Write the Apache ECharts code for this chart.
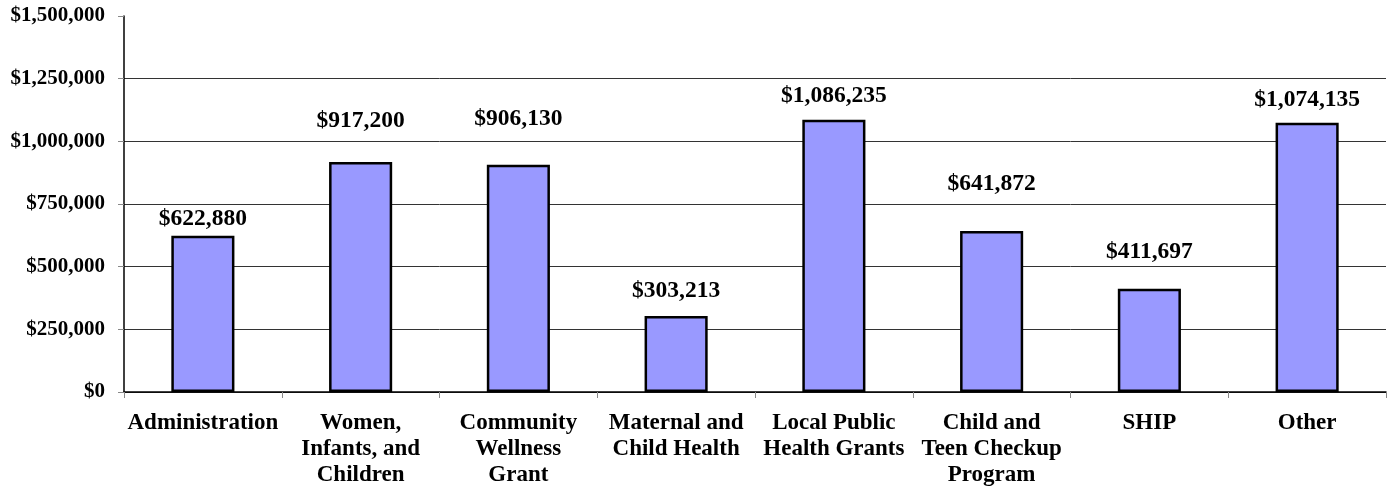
<!DOCTYPE html>
<html><head><meta charset="utf-8">
<script src="https://cdn.jsdelivr.net/npm/echarts@6/dist/echarts.min.js"></script>
<style>html,body{margin:0;padding:0;background:#fff}#c{width:1392px;height:491px}</style>
</head><body><div id="c"></div>
<script>
const categories = ["Administration","Women,\nInfants, and\nChildren","Community\nWellness\nGrant","Maternal and\nChild Health","Local Public\nHealth Grants","Child and\nTeen Checkup\nProgram","SHIP","Other"];
const values = [622880, 917200, 906130, 303213, 1086235, 641872, 411697, 1074135];
const yMin = 0, yMax = 1500000, yStep = 250000;
// label gap above each bar (styling only, as placed in the original)
const labelGaps = [5, 29, 34, 13, 12, 35, 25, 11];
const fmt = v => '$' + Math.round(v).toLocaleString('en-US');
const font = '"Liberation Serif","Times New Roman",serif';
const chart = echarts.init(document.getElementById('c'));
chart.setOption({
  animation: false,
  grid: {left: 124, right: 6, top: 16, bottom: 99},
  xAxis: {
    type: 'category', data: categories,
    axisLine: {lineStyle: {color: '#000', width: 1.5}},
    axisTick: {show: true, length: 6, lineStyle: {color: '#888'}},
    axisLabel: {color: '#000', fontFamily: font, fontWeight: 'bold', fontSize: 23, lineHeight: 26.3, margin: 17.5, interval: 0}
  },
  yAxis: {
    type: 'value', min: yMin, max: yMax, interval: yStep,
    axisLine: {show: true, lineStyle: {color: '#000', width: 1.5}},
    axisTick: {show: true, length: 6, lineStyle: {color: '#888'}},
    splitLine: {show: true, lineStyle: {color: ['#333','#333','#333','#333','#333','#333','transparent'], width: 1}},
    axisLabel: {color: '#000', fontFamily: font, fontWeight: 'bold', fontSize: 21, margin: 19, formatter: fmt}
  },
  series: [{
    type: 'bar', barWidth: '40%',
    data: values.map((v, i) => ({value: v, label: {distance: labelGaps[i]}})),
    itemStyle: {color: '#9999FF', borderColor: '#000', borderWidth: 2.5},
    label: {show: true, position: 'top', color: '#000', fontFamily: font, fontWeight: 'bold', fontSize: 23.5, formatter: p => fmt(p.value)}
  }]
});
</script></body></html>
